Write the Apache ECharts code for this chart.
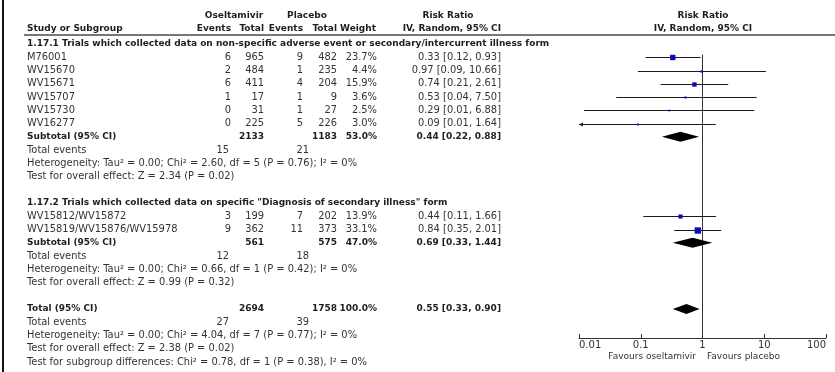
<!DOCTYPE html>
<html><head><meta charset="utf-8">
<script src="https://cdn.jsdelivr.net/npm/echarts@6/dist/echarts.min.js"></script>
<style>html,body{margin:0;padding:0;background:#fff}#c{width:835px;height:372px}</style>
</head><body><div id="c"></div>
<script>
// ---- data ----
const studies1 = ['M76001','WV15670','WV15671','WV15707','WV15730','WV16277'];
const oselEvents1 = [6,2,6,1,0,0];
const oselTotal1 = [965,484,411,17,31,225];
const placEvents1 = [9,1,4,1,1,5];
const placTotal1 = [482,235,204,9,27,226];
const weight1 = [23.7,4.4,15.9,3.6,2.5,3.0];
const rr1 = [0.33,0.97,0.74,0.53,0.29,0.09];
const lo1 = [0.12,0.09,0.21,0.04,0.012,0.006];
const hi1 = [0.93,10.66,2.61,7.50,6.88,1.64];

const studies2 = ['WV15812/WV15872','WV15819/WV15876/WV15978'];
const oselEvents2 = [3,9];
const oselTotal2 = [199,362];
const placEvents2 = [7,11];
const placTotal2 = [202,373];
const weight2 = [13.9,33.1];
const rr2 = [0.44,0.84];
const lo2 = [0.11,0.35];
const hi2 = [1.66,2.01];

// summaries: [oselTotal, placTotal, weight, rr, lo, hi, oselEvents, placEvents]
const sub1 = [2133,1183,53.0,0.44,0.22,0.88,15,21];
const sub2 = [561,575,47.0,0.69,0.33,1.44,12,18];
const total = [2694,1758,100.0,0.55,0.33,0.90,27,39];

const heading1 = '1.17.1 Trials which collected data on non-specific adverse event or secondary/intercurrent illness form';
const heading2 = '1.17.2 Trials which collected data on specific "Diagnosis of secondary illness" form';
const het1 = 'Heterogeneity: Tau² = 0.00; Chi² = 2.60, df = 5 (P = 0.76); I² = 0%';
const test1 = 'Test for overall effect: Z = 2.34 (P = 0.02)';
const het2 = 'Heterogeneity: Tau² = 0.00; Chi² = 0.66, df = 1 (P = 0.42); I² = 0%';
const test2 = 'Test for overall effect: Z = 0.99 (P = 0.32)';
const hetT = 'Heterogeneity: Tau² = 0.00; Chi² = 4.04, df = 7 (P = 0.77); I² = 0%';
const testT = 'Test for overall effect: Z = 2.38 (P = 0.02)';
const testSub = 'Test for subgroup differences: Chi² = 0.78, df = 1 (P = 0.38), I² = 0%';
const xTickLabels = ['0.01','0.1','1','10','100'];

// ---- layout ----
const ROW0 = 44, STEP = 13.25, AXIS_Y = 338;
const FONT = 'DejaVu Sans';
const TXT = '#333333';
const TXTB = '#1e1e1e';
const REG = 9.9, BOLD = 9;
const rowY = i => ROW0 + STEP * i;
const fmtRR = (r,l,h) => r.toFixed(2) + ' [' + l.toFixed(2) + ', ' + h.toFixed(2) + ']';

const graphics = [];
function txt(s, x, row, align, bold, size, yOverride){
  const fs = size || (bold ? BOLD : REG);
  graphics.push({type:'text', x:x, y: yOverride!==undefined?yOverride:rowY(row), silent:true,
    style:{text:String(s), fill:bold?TXTB:TXT, font:(bold?'bold ':'')+fs+'px "'+FONT+'"',
      fontSize:fs, fontFamily:FONT, fontWeight:bold?'bold':'normal',
      align:align, textAlign:align, verticalAlign:'middle', textVerticalAlign:'middle'}});
}
const C = {name:27, oe:231, ot:264, pe:303, pt:337, w:377, rr:501};

// left frame & header rule
graphics.push({type:'line', silent:true, shape:{x1:3,y1:0,x2:3,y2:372}, style:{stroke:'#111', lineWidth:2}});
graphics.push({type:'line', silent:true, shape:{x1:24,y1:35,x2:835,y2:35}, style:{stroke:'#777', lineWidth:2}});

// headers
txt('Oseltamivir', 234, 0, 'center', true, BOLD, 16);
txt('Placebo', 307, 0, 'center', true, BOLD, 16);
txt('Risk Ratio', 448, 0, 'center', true, BOLD, 16);
txt('Risk Ratio', 703, 0, 'center', true, BOLD, 16);
txt('Study or Subgroup', C.name, 0, 'left', true, BOLD, 29);
txt('Events', C.oe, 0, 'right', true, BOLD, 29);
txt('Total', C.ot, 0, 'right', true, BOLD, 29);
txt('Events', C.pe, 0, 'right', true, BOLD, 29);
txt('Total', C.pt, 0, 'right', true, BOLD, 29);
txt('Weight', 376, 0, 'right', true, BOLD, 29);
txt('IV, Random, 95% CI', C.rr, 0, 'right', true, BOLD, 29);
txt('IV, Random, 95% CI', 703, 0, 'center', true, BOLD, 29);

function group(startRow, heading, names, oe, ot, pe, pt, w, rr, lo, hi, sub, het, test){
  txt(heading, C.name, startRow, 'left', true);
  names.forEach((n,i)=>{
    const r = startRow+1+i;
    txt(n, C.name, r, 'left');
    txt(oe[i], C.oe, r, 'right'); txt(ot[i], C.ot, r, 'right');
    txt(pe[i], C.pe, r, 'right'); txt(pt[i], C.pt, r, 'right');
    txt(w[i].toFixed(1)+'%', C.w, r, 'right');
    txt(fmtRR(rr[i],lo[i],hi[i]), C.rr, r, 'right');
  });
  const s = startRow+1+names.length;
  txt('Subtotal (95% CI)', C.name, s, 'left', true);
  txt(sub[0], C.ot, s, 'right', true); txt(sub[1], C.pt, s, 'right', true);
  txt(sub[2].toFixed(1)+'%', C.w, s, 'right', true);
  txt(fmtRR(sub[3],sub[4],sub[5]), C.rr, s, 'right', true);
  txt('Total events', C.name, s+1, 'left');
  txt(sub[6], 229, s+1, 'right'); txt(sub[7], 309, s+1, 'right');
  txt(het, C.name, s+2, 'left');
  txt(test, C.name, s+3, 'left');
  return s;
}
const s1 = group(0, heading1, studies1, oselEvents1, oselTotal1, placEvents1, placTotal1, weight1, rr1, lo1, hi1, sub1, het1, test1);
const s2 = group(12, heading2, studies2, oselEvents2, oselTotal2, placEvents2, placTotal2, weight2, rr2, lo2, hi2, sub2, het2, test2);
const tRow = 20;
txt('Total (95% CI)', C.name, tRow, 'left', true);
txt(total[0], C.ot, tRow, 'right', true); txt(total[1], C.pt, tRow, 'right', true);
txt(total[2].toFixed(1)+'%', C.w, tRow, 'right', true);
txt(fmtRR(total[3],total[4],total[5]), C.rr, tRow, 'right', true);
txt('Total events', C.name, tRow+1, 'left');
txt(total[6], 229, tRow+1, 'right'); txt(total[7], 309, tRow+1, 'right');
txt(hetT, C.name, tRow+2, 'left');
txt(testT, C.name, tRow+3, 'left');
txt(testSub, C.name, tRow+4, 'left');
txt('Favours oseltamivir', 696, 0, 'right', false, 9, 357);
txt('Favours placebo', 707, 0, 'left', false, 9, 357);

// ---- forest data ----
const studyData = [];
studies1.forEach((n,i)=>studyData.push([rr1[i],lo1[i],hi1[i],1+i,weight1[i]]));
studies2.forEach((n,i)=>studyData.push([rr2[i],lo2[i],hi2[i],13+i,weight2[i]]));
const diamondData = [
  [sub1[3],sub1[4],sub1[5],s1],
  [sub2[3],sub2[4],sub2[5],s2],
  [total[3],total[4],total[5],tRow]
];
const XMIN = 0.01, XMAX = 100;
const yMax = (AXIS_Y - ROW0) / STEP;

function renderStudy(params, api){
  const rr = api.value(0), lo = api.value(1), hi = api.value(2), row = api.value(3), w = api.value(4);
  const p = api.coord([rr,row]);
  const pl = api.coord([Math.max(lo,XMIN),row]);
  const ph = api.coord([Math.min(hi,XMAX),row]);
  const y = Math.round(p[1])+0.5;
  const children = [{type:'line', shape:{x1:pl[0],y1:y,x2:ph[0],y2:y}, style:{stroke:'#1a1a1a', lineWidth:1}}];
  if (lo < XMIN) children.push({type:'polygon', shape:{points:[[pl[0],y],[pl[0]+4,y-2],[pl[0]+4,y+2]]}, style:{fill:'#1a1a1a'}});
  if (hi > XMAX) children.push({type:'polygon', shape:{points:[[ph[0],y],[ph[0]-4,y-2],[ph[0]-4,y+2]]}, style:{fill:'#1a1a1a'}});
  const sz = Math.max(1.5, 1.1*Math.sqrt(w));
  children.push({type:'rect', shape:{x:p[0]-sz/2,y:y-sz/2,width:sz,height:sz}, style:{fill:'#0a0ab8'}});
  return {type:'group', children};
}
function renderDiamond(params, api){
  const rr = api.value(0), lo = api.value(1), hi = api.value(2), row = api.value(3);
  const p = api.coord([rr,row]), pl = api.coord([lo,row]), ph = api.coord([hi,row]);
  const h = 5;
  return {type:'polygon', shape:{points:[[pl[0],p[1]],[p[0],p[1]-h],[ph[0],p[1]],[p[0],p[1]+h]]}, style:{fill:'#000'}};
}

const chart = echarts.init(document.getElementById('c'), null, {renderer:'canvas'});
chart.setOption({
  animation:false,
  backgroundColor:'#fff',
  grid:{left:579, right:835-826, top:ROW0-STEP, bottom:372-AXIS_Y, containLabel:false},
  xAxis:{type:'log', logBase:10, min:XMIN, max:XMAX, position:'bottom',
    axisLine:{show:true, onZero:false, lineStyle:{color:'#333', width:1}},
    axisTick:{show:true, inside:true, length:4, lineStyle:{color:'#333'}},
    splitLine:{show:false}, minorTick:{show:false},
    axisLabel:{margin:2, fontSize:10, fontFamily:FONT, color:TXT, alignMinLabel:'left', alignMaxLabel:'right',
      formatter:(v)=>{const i = Math.round(Math.log10(v))+2; return xTickLabels[i]!==undefined?xTickLabels[i]:'';}}},
  yAxis:{type:'value', inverse:true, min:-1, max:yMax, show:false},
  series:[
    {type:'line', data:[[1,0.8],[1,yMax]], symbol:'none', silent:true, lineStyle:{color:'#333', width:1}, z:1},
    {type:'custom', renderItem:renderStudy, data:studyData, clip:false, silent:true, z:3},
    {type:'custom', renderItem:renderDiamond, data:diamondData, clip:false, silent:true, z:3}
  ],
  graphic:graphics
});
</script></body></html>
